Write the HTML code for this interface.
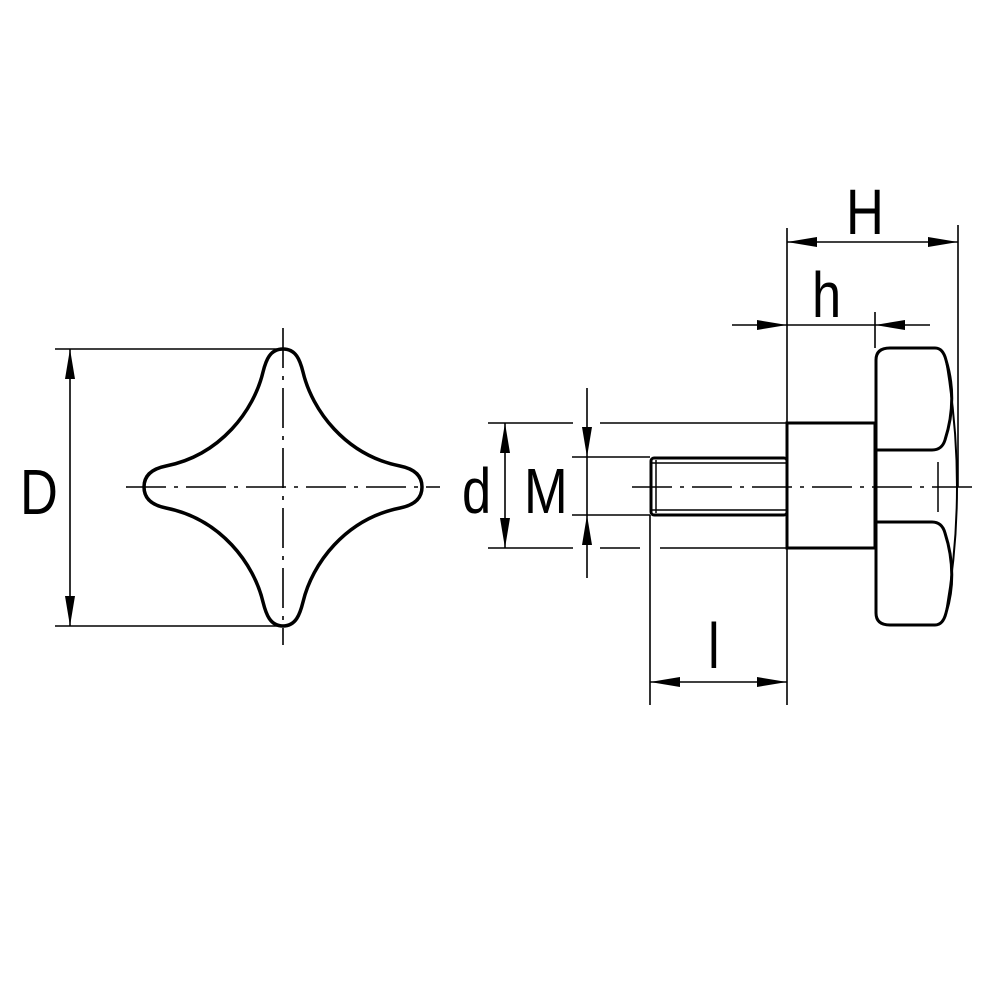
<!DOCTYPE html>
<html><head><style>html,body{margin:0;padding:0;background:#fff}svg{display:block}</style></head>
<body>
<svg width="1000" height="1000" viewBox="0 0 1000 1000" xmlns="http://www.w3.org/2000/svg">
<defs>
<marker id="a" viewBox="0 0 30 10" refX="30" refY="5" markerWidth="30" markerHeight="10" markerUnits="userSpaceOnUse" orient="auto-start-reverse"><path d="M0,0 L30,5 L0,10 Z" fill="#000"/></marker>
</defs>
<g fill="none" stroke="#000">
<!-- star -->
<path stroke-width="3.5" d="M263,372 C266,360 270,349 283,349 C296,349 300,360 303,372 C312,410 345,455 400,466 C415,469 422,476 422,487 C422,498 415,505 400,508 C345,519 312,564 303,602 C300,614 296,626 283,626 C270,626 266,614 263,602 C254,564 221,519 166,508 C151,505 144,498 144,487 C144,476 151,469 166,466 C221,455 254,410 263,372 Z"/>
<g stroke-width="1.6" stroke-dasharray="40,8,4,8">
<line x1="126" y1="487" x2="440" y2="487"/>
<line x1="283" y1="328" x2="283" y2="645"/>
<line x1="632" y1="487" x2="975" y2="487"/>
</g>
<g stroke-width="1.6">
<line x1="55" y1="349" x2="283" y2="349"/>
<line x1="55" y1="626" x2="283" y2="626"/>
<line x1="70" y1="349" x2="70" y2="626" marker-start="url(#a)" marker-end="url(#a)"/>
<line x1="488" y1="423" x2="573" y2="423"/>
<line x1="600" y1="423" x2="787" y2="423"/>
<line x1="488" y1="548" x2="573" y2="548"/>
<line x1="600" y1="548" x2="640" y2="548"/>
<line x1="660" y1="548" x2="787" y2="548"/>
<line x1="505" y1="423" x2="505" y2="548" marker-start="url(#a)" marker-end="url(#a)"/>
<line x1="572" y1="457" x2="650" y2="457"/>
<line x1="572" y1="515" x2="650" y2="515"/>
<line x1="587" y1="388" x2="587" y2="457" marker-end="url(#a)"/>
<line x1="587" y1="578" x2="587" y2="515" marker-end="url(#a)"/>
<line x1="587" y1="457" x2="587" y2="515"/>
<line x1="650" y1="515" x2="650" y2="705"/>
<line x1="787" y1="228" x2="787" y2="705"/>
<line x1="650" y1="682" x2="787" y2="682" marker-start="url(#a)" marker-end="url(#a)"/>
<line x1="958" y1="225" x2="958" y2="487"/>
<line x1="787" y1="242" x2="958" y2="242" marker-start="url(#a)" marker-end="url(#a)"/>
<line x1="875" y1="312" x2="875" y2="348"/>
<line x1="732" y1="325" x2="787" y2="325" marker-end="url(#a)"/>
<line x1="930" y1="325" x2="875" y2="325" marker-end="url(#a)"/>
<line x1="787" y1="325" x2="875" y2="325"/>
</g>
<g stroke-width="3">
<rect x="651" y="458" width="136" height="57" rx="3"/>
<line x1="651" y1="463" x2="787" y2="463" stroke-width="1.5"/>
<line x1="651" y1="510" x2="787" y2="510" stroke-width="1.5"/>
<line x1="656" y1="460" x2="656" y2="513" stroke-width="1.5"/>
<rect x="787" y="423" width="88" height="125"/>
<path d="M876,360 Q876,348 890,348 L935,348 Q943,348 946,360 Q958,400 945,440 Q942,450 932,450 L876,450 Z"/>
<path d="M876,613 Q876,625 890,625 L935,625 Q943,625 946,613 Q958,573 945,533 Q942,522 932,522 L876,522 Z"/>
<line x1="876" y1="450" x2="876" y2="522"/>
<path d="M946,360 Q968,487 946,613" stroke-width="2"/>
</g>
<line x1="938" y1="462" x2="938" y2="512" stroke-width="1.5"/>
</g>
<g font-family="Liberation Sans, sans-serif" fill="#000" font-size="64">
<text transform="translate(20,514) scale(0.82,1)">D</text>
<text transform="translate(462,513) scale(0.82,1)">d</text>
<text transform="translate(524,513) scale(0.82,1)">M</text>
<text transform="translate(846,234) scale(0.82,1)">H</text>
<text transform="translate(812,317) scale(0.82,1)">h</text>
<text transform="translate(708,668) scale(0.82,1)">l</text>
</g>
</svg>
</body></html>
